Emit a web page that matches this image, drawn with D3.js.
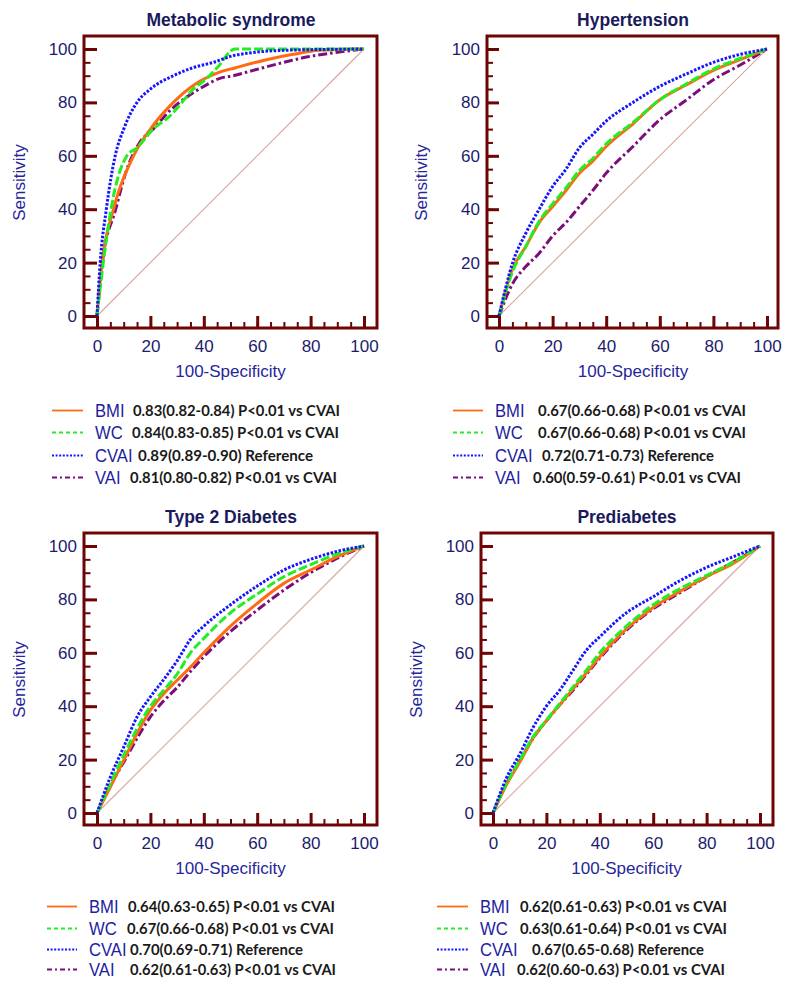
<!DOCTYPE html>
<html>
<head>
<meta charset="utf-8">
<script src="https://cdn.jsdelivr.net/npm/d3@7"></script>
<style>
html,body{margin:0;padding:0;background:#fff;}
svg{display:block;}
</style>
</head>
<body>
<svg id="chart" width="787" height="981"></svg>
<script>
// ---------- DATA ----------
const markers = ["BMI", "WC", "CVAI", "VAI"];
const panelTitles = ["Metabolic syndrome", "Hypertension", "Type 2 Diabetes", "Prediabetes"];
const majorTicks = [0, 20, 40, 60, 80, 100];
const minorTicks = d3.range(0, 101, 5);
const fprGrid = [0, 5, 10, 15, 20, 25, 30, 35, 40, 50, 60, 70, 80, 90, 100];

// Metabolic syndrome: [100-specificity, sensitivity]
const msBMI  = [[0,0],[1.9,20],[6.2,40],[13.7,60],[20,70],[28.6,80],[37,87],[45,91],[52,93],[63.5,96],[73.5,98],[83,99.5],[100,100]];
const msWC   = [[0,0],[3,25],[6.2,45],[11.2,60],[15,63],[21,70],[27.4,75],[31.8,80],[36,85],[40,88],[45,93],[51.7,100],[100,100]];
const msCVAI = [[0,0],[1.2,20],[3.5,40],[6.8,60],[10,70],[15,80],[20,85],[28.6,90],[36,93],[43.6,95],[51,97.5],[57,98.5],[70,99.5],[100,100]];
const msVAI  = [[0,0],[2,20],[7,40],[11.2,55],[16,65],[21,70],[27.4,77],[33.6,82],[40,86],[46,89],[51,90],[58.5,92],[70,95],[78.5,97],[88,98.5],[100,100]];

// Sensitivity at fprGrid
const htBMI  = [0,17.5,26,35,41,47,53.5,58,63.5,72,81,86.6,92,96,100];
const htWC   = [0,16.5,26,35.5,42,48,54.5,59,64.5,72.5,81,87,92.5,96.5,100];
const htCVAI = [0,19.7,31,40,48.5,55,63,68,73,80,86,90.7,95,98,100];
const htVAI  = [0,12,18.5,23.5,30,35,41,47,53.5,63.5,73.5,81,88.5,94,100];

const t2BMI  = [0,9.75,19.75,29.75,38.5,44.7,49.7,54.7,60,70,78.5,86,91,96,100];
const t2WC   = [0,11,21.6,31.6,40,46,52,60,65.4,75,82,88.5,93,97,100];
const t2CVAI = [0,13.5,24.7,36,43.5,50,57,65,70,78,85,91,95,98,100];
const t2VAI  = [0,10.4,19,28,36,42,47,53,58.5,68,76,83.5,90,95.4,100];

const prBMI  = [0,10.5,19,28,34.5,40.5,46.5,52.5,58.5,69,77,83,88.5,93.5,100];
const prWC   = [0,11,19.75,28.5,34.75,41,47.25,53.5,60,70,78,84,89,94,100];
const prCVAI = [0,13,22,32,40,46,53.5,61,66,75,81,87,92,96,100];
const prVAI  = [0,11,19.5,28,34.5,40.5,46,52,58,68.5,76.5,82.5,88.5,94,100];

const msAUC = ["0.83(0.82-0.84) P<0.01 vs CVAI","0.84(0.83-0.85) P<0.01 vs CVAI","0.89(0.89-0.90) Reference","0.81(0.80-0.82) P<0.01 vs CVAI"];
const htAUC = ["0.67(0.66-0.68) P<0.01 vs CVAI","0.67(0.66-0.68) P<0.01 vs CVAI","0.72(0.71-0.73) Reference","0.60(0.59-0.61) P<0.01 vs CVAI"];
const t2AUC = ["0.64(0.63-0.65) P<0.01 vs CVAI","0.67(0.66-0.68) P<0.01 vs CVAI","0.70(0.69-0.71) Reference","0.62(0.61-0.63) P<0.01 vs CVAI"];
const prAUC = ["0.62(0.61-0.63) P<0.01 vs CVAI","0.63(0.61-0.64) P<0.01 vs CVAI","0.67(0.65-0.68) Reference","0.62(0.60-0.63) P<0.01 vs CVAI"];

// ---------- BUILD ----------
const onGrid = arr => arr.map((v, i) => [fprGrid[i], v]);
const panelSeries = [
  [msBMI, msWC, msCVAI, msVAI],
  [onGrid(htBMI), onGrid(htWC), onGrid(htCVAI), onGrid(htVAI)],
  [onGrid(t2BMI), onGrid(t2WC), onGrid(t2CVAI), onGrid(t2VAI)],
  [onGrid(prBMI), onGrid(prWC), onGrid(prCVAI), onGrid(prVAI)]
];
const panelAUC = [msAUC, htAUC, t2AUC, prAUC];

// layout (pixel geometry)
const layout = [
  {fl:84, ft:36, fr:377, fb:328, x0:97, x1:364, y0:316, y1:49, titleX:231, titleY:26, sensX:25,
   lg:{lx0:52, lx1:83, nx:95, vx:[133,132,138,130], vw:[207,207,175,207], base:[417,439,462,484]}},
  {fl:487, ft:36, fr:778, fb:328, x0:499, x1:767, y0:316, y1:49, titleX:633, titleY:26, sensX:427,
   lg:{lx0:453, lx1:483, nx:495, vx:[538,538,542,533], vw:[208,208,172,208], base:[417,439,462,484]}},
  {fl:84, ft:533, fr:377, fb:825, x0:97, x1:364, y0:813, y1:546, titleX:231, titleY:523, sensX:25,
   lg:{lx0:47, lx1:77, nx:89, vx:[128,127,130,130], vw:[207,207,173,206], base:[913,935,956,976]}},
  {fl:481, ft:533, fr:773, fb:825, x0:493, x1:760, y0:813, y1:546, titleX:627, titleY:523, sensX:422,
   lg:{lx0:437, lx1:468, nx:480, vx:[520,520,532,517], vw:[207,207,172,208], base:[913,935,956,976]}}
];

const styles = {
  BMI:  {color:"#ff6a13", dash:null,       legDash:null,        width:3},
  WC:   {color:"#22ee22", dash:"9,3",      legDash:"4,3",       width:3},
  CVAI: {color:"#1515ff", dash:"2.5,1.6",  legDash:"2,1.6",     width:3},
  VAI:  {color:"#7a0f7a", dash:"9,3,2.5,3",legDash:"5,3,2,3",   width:3}
};
const drawOrder = [3, 0, 1, 2]; // VAI, BMI, WC, CVAI

const FRAME = "#6e0404";
const NAVY = "#1c1c6e";
const svg = d3.select("#chart");

panelTitles.forEach((title, pi) => {
  const L = layout[pi];
  const g = svg.append("g");
  const x = d3.scaleLinear().domain([0,100]).range([L.x0, L.x1]);
  const y = d3.scaleLinear().domain([0,100]).range([L.y0, L.y1]);

  // title
  g.append("text").attr("x", L.titleX).attr("y", L.titleY)
    .attr("text-anchor","middle").attr("font-family","Liberation Sans, Arial, sans-serif")
    .attr("font-weight","bold").attr("font-size",17.5).attr("fill","#1a1a5c").text(title);

  // diagonal
  g.append("line").attr("x1", x(0)).attr("y1", y(0)).attr("x2", x(100)).attr("y2", y(100))
    .attr("stroke","#d6a59d").attr("stroke-width",1.1);

  // curves
  const line = d3.line().x(d => x(d[0])).y(d => y(d[1])).curve(d3.curveMonotoneX);
  drawOrder.forEach(si => {
    const st = styles[markers[si]];
    g.append("path").datum(panelSeries[pi][si])
      .attr("d", line).attr("fill","none")
      .attr("stroke", st.color).attr("stroke-width", st.width)
      .attr("stroke-dasharray", st.dash).attr("stroke-linejoin","round");
  });

  // frame
  g.append("rect").attr("x", L.fl).attr("y", L.ft).attr("width", L.fr - L.fl).attr("height", L.fb - L.ft)
    .attr("fill","none").attr("stroke", FRAME).attr("stroke-width", 3);

  // y axis minor
  const yMinor = g.append("g").attr("transform", `translate(${L.fl},0)`)
    .call(d3.axisLeft(y).tickValues(minorTicks).tickSizeInner(-(L.x0 - L.fl) * 0.5).tickSizeOuter(0).tickFormat(""));
  yMinor.select(".domain").remove();
  yMinor.selectAll(".tick line").attr("stroke", FRAME).attr("stroke-width", 2);
  // y axis major
  const yMajor = g.append("g").attr("transform", `translate(${L.fl},0)`)
    .call(d3.axisLeft(y).tickValues(majorTicks).tickSizeInner(-(L.x0 - L.fl)).tickSizeOuter(0).tickPadding(7));
  yMajor.select(".domain").remove();
  yMajor.selectAll(".tick line").attr("stroke", FRAME).attr("stroke-width", 3);
  yMajor.selectAll(".tick text").attr("font-family","Liberation Sans, Arial, sans-serif")
    .attr("font-size",17).attr("fill", NAVY);

  // x axis minor
  const xMinor = g.append("g").attr("transform", `translate(0,${L.fb})`)
    .call(d3.axisBottom(x).tickValues(minorTicks).tickSizeInner(-(L.fb - L.y0) * 0.5).tickSizeOuter(0).tickFormat(""));
  xMinor.select(".domain").remove();
  xMinor.selectAll(".tick line").attr("stroke", FRAME).attr("stroke-width", 2);
  const xMajor = g.append("g").attr("transform", `translate(0,${L.fb})`)
    .call(d3.axisBottom(x).tickValues(majorTicks).tickSizeInner(-(L.fb - L.y0)).tickSizeOuter(0).tickPadding(12));
  xMajor.select(".domain").remove();
  xMajor.selectAll(".tick line").attr("stroke", FRAME).attr("stroke-width", 3);
  xMajor.selectAll(".tick text").attr("font-family","Liberation Sans, Arial, sans-serif")
    .attr("font-size",17).attr("fill", NAVY);

  // axis titles
  g.append("text").attr("x", (L.x0 + L.x1) / 2).attr("y", L.fb + 49)
    .attr("text-anchor","middle").attr("font-family","Liberation Sans, Arial, sans-serif")
    .attr("font-size",17).attr("fill","#26269a").text("100-Specificity");
  g.append("text").attr("transform", `translate(${L.sensX},${(L.y0 + L.y1) / 2}) rotate(-90)`)
    .attr("text-anchor","middle").attr("font-family","Liberation Sans, Arial, sans-serif")
    .attr("font-size",17).attr("fill","#26269a").text("Sensitivity");

  // legend
  const lg = L.lg;
  markers.forEach((m, i) => {
    const st = styles[m];
    const ly = lg.base[i] - 6.5;
    g.append("line").attr("x1", lg.lx0).attr("x2", lg.lx1).attr("y1", ly).attr("y2", ly)
      .attr("stroke", st.color).attr("stroke-width", 1.8).attr("stroke-dasharray", st.legDash);
    g.append("text").attr("transform", `translate(${lg.nx},${lg.base[i]}) scale(0.9,1)`)
      .attr("font-family","Liberation Sans, Arial, sans-serif").attr("font-size",18.5)
      .attr("fill","#1e1e9e").text(m);
    g.append("text").attr("x", lg.vx[i]).attr("y", lg.base[i] - 1)
      .attr("font-family","Lato, 'Open Sans', sans-serif").attr("font-weight","bold")
      .attr("font-size",14.5).attr("fill","#1a1a1a")
      .attr("textLength", lg.vw[i]).attr("lengthAdjust","spacingAndGlyphs")
      .text(panelAUC[pi][i]);
  });
});
</script>
</body>
</html>
